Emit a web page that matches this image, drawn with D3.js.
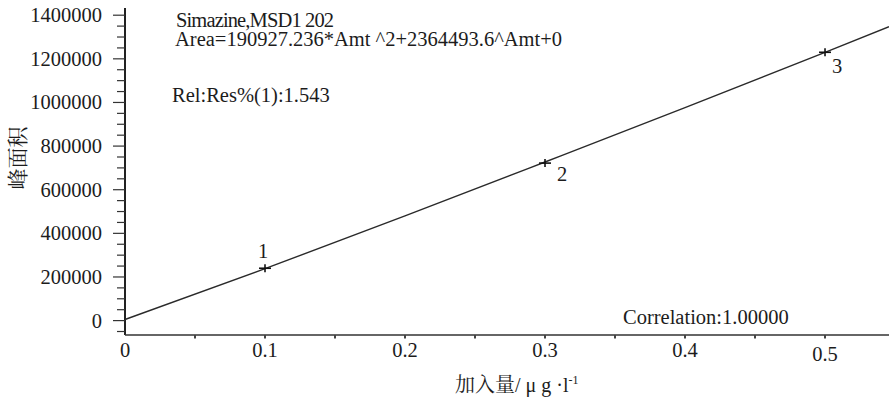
<!DOCTYPE html>
<html><head><meta charset="utf-8">
<script src="https://cdn.jsdelivr.net/npm/d3@7"></script>
<style>body{margin:0;background:#fff;}</style>
</head><body>
<svg id="c" width="889" height="402"></svg>
<script>
// Data
const yTicks = [0, 200000, 400000, 600000, 800000, 1000000, 1200000, 1400000];
const xTicks = [0, 0.1, 0.2, 0.3, 0.4, 0.5];
const xTickLabels = ["0", "0.1", "0.2", "0.3", "0.4", "0.5"];
const pointX = [0.1, 0.3, 0.5];
const pointY = [240000, 722000, 1230000];
const pointLabels = ["1", "2", "3"];
const curveX = [0, 0.1, 0.2, 0.3, 0.4, 0.5, 0.5457];
const curveY = [5000, 238000, 480000, 727000, 976000, 1230000, 1347000];
const textLines = ["Simazine,MSD1 202", "Area=190927.236*Amt ^2+2364493.6^Amt+0", "Rel:Res%(1):1.543", "Correlation:1.00000"];
const yLabel = "峰面积";
const xLabel = ["加入量", "/ μ g ·l", "-1"];

const SERIF = "Liberation Serif";
const CJK = "Noto Serif CJK SC";
const INK = "#1c1c1c";

const svg = d3.select("#c");
const x = d3.scaleLinear().domain([0, 0.5457]).range([125, 889]);
const y = d3.scaleLinear().domain([-66000, 1433000]).range([335, 8]);

function txt(sel) { return sel.attr("font-family", SERIF).attr("fill", INK); }

// y axis
const yMinor = d3.range(-50000, 1433000, 50000).filter(v => v % 200000 !== 0);
svg.append("line").attr("x1", x(0)).attr("x2", x(0)).attr("y1", y(1433000)).attr("y2", y(-66000))
  .attr("stroke", "#222").attr("stroke-width", 2);
svg.selectAll(".ymaj").data(yTicks).enter().append("line")
  .attr("x1", x(0) - 12).attr("x2", x(0)).attr("y1", d => y(d)).attr("y2", d => y(d))
  .attr("stroke", "#333").attr("stroke-width", 1.2);
svg.selectAll(".ymin").data(yMinor).enter().append("line")
  .attr("x1", x(0) - 8).attr("x2", x(0)).attr("y1", d => y(d)).attr("y2", d => y(d))
  .attr("stroke", "#333").attr("stroke-width", 1.2);
txt(svg.selectAll(".ylab").data(yTicks).enter().append("text"))
  .attr("x", 102).attr("y", d => y(d) + 7).attr("text-anchor", "end")
  .attr("font-size", 20.5).text(d => d);

// x axis
svg.append("line").attr("x1", x(0)).attr("x2", 889).attr("y1", 335).attr("y2", 335)
  .attr("stroke", "#333").attr("stroke-width", 1.5);
const xMinor = d3.range(0.05, 0.546, 0.05);
svg.selectAll(".xt").data(xMinor).enter().append("line")
  .attr("x1", d => x(d)).attr("x2", d => x(d)).attr("y1", 335).attr("y2", 338.5)
  .attr("stroke", "#444").attr("stroke-width", 2);
txt(svg.selectAll(".xlab").data(xTicks).enter().append("text"))
  .attr("x", d => x(d)).attr("y", (d, i) => i === 5 ? 361 : 357).attr("text-anchor", "middle")
  .attr("font-size", 20.5).text((d, i) => xTickLabels[i]);

// curve
const line = d3.line().x(d => x(d[0])).y(d => y(d[1])).curve(d3.curveMonotoneX);
svg.append("path").datum(curveX.map((v, i) => [v, curveY[i]]))
  .attr("d", line).attr("fill", "none").attr("stroke", "#2a2a2a").attr("stroke-width", 1.4);

// points
pointX.forEach((px, i) => {
  const cx = x(px), cy = y(pointY[i]);
  svg.append("line").attr("x1", cx - 6).attr("x2", cx + 6).attr("y1", cy).attr("y2", cy).attr("stroke", "#111").attr("stroke-width", 1.6);
  svg.append("line").attr("x1", cx).attr("x2", cx).attr("y1", cy - 4).attr("y2", cy + 4).attr("stroke", "#111").attr("stroke-width", 1.6);
});
const lblOff = [[-2, -10], [17, 18], [12, 21]];
txt(svg.selectAll(".pl").data(pointLabels).enter().append("text"))
  .attr("x", (d, i) => x(pointX[i]) + lblOff[i][0]).attr("y", (d, i) => y(pointY[i]) + lblOff[i][1])
  .attr("text-anchor", "middle").attr("font-size", 20.5).text(d => d);

// annotations
txt(svg.append("text")).attr("x", 176).attr("y", 27).attr("font-size", 20.5)
  .attr("textLength", 158).attr("lengthAdjust", "spacing").text(textLines[0]);
txt(svg.append("text")).attr("x", 175).attr("y", 46).attr("font-size", 20.5).text(textLines[1]);
txt(svg.append("text")).attr("x", 172).attr("y", 102).attr("font-size", 20.5).text(textLines[2]);
txt(svg.append("text")).attr("x", 623).attr("y", 324).attr("font-size", 20.5).text(textLines[3]);

// axis titles
svg.append("text").attr("transform", "translate(25,158) rotate(-90)").attr("text-anchor", "middle")
  .attr("font-size", 21).attr("font-family", CJK).attr("fill", INK).text(yLabel);
const xt = txt(svg.append("text")).attr("x", 455).attr("y", 392).attr("font-size", 20);
xt.append("tspan").attr("font-family", CJK).text(xLabel[0]);
xt.append("tspan").text(xLabel[1]);
xt.append("tspan").attr("font-size", 12).attr("dy", -8).text(xLabel[2]);
</script></body></html>
